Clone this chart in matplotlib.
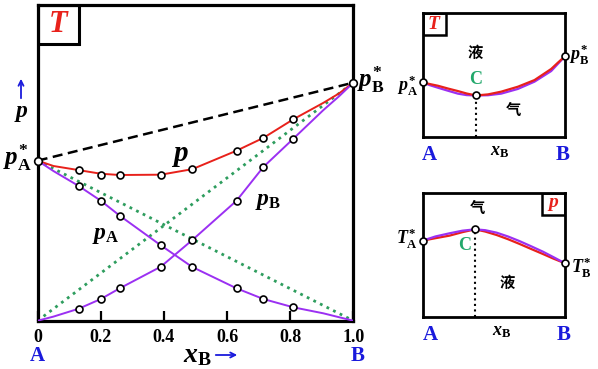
import matplotlib
matplotlib.use("Agg")
import matplotlib.pyplot as plt
from matplotlib.patches import Rectangle, FancyArrowPatch

plt.rcParams['font.family'] = ['Liberation Serif', 'DejaVu Sans']
plt.rcParams['mathtext.fontset'] = 'custom'
plt.rcParams['mathtext.rm'] = 'Liberation Serif:bold'
plt.rcParams['mathtext.it'] = 'Liberation Serif:italic:bold'
plt.rcParams['mathtext.bf'] = 'Liberation Serif:bold'

# main p-x diagram (vapour pressures, arbitrary units)
x_meas = [0.13, 0.20, 0.26, 0.39, 0.49, 0.63, 0.715, 0.81]
p_total = [0.477, 0.4615, 0.4625, 0.4625, 0.480, 0.5385, 0.579, 0.638]
p_A = [0.4267, 0.380, 0.3326, 0.2388, 0.170, 0.1026, 0.0687, 0.0424]
p_B = [0.038, 0.0687, 0.1026, 0.171, 0.2556, 0.380, 0.4869, 0.5765]
pA_star = 0.507
pB_star = 0.754

# smooth curves
curve_x = [0, 0.05, 0.13, 0.20, 0.26, 0.39, 0.49, 0.63, 0.715, 0.81, 0.905, 0.955, 1.0]
curve_total = [0.507, 0.490, 0.477, 0.4655, 0.4615, 0.4625, 0.480, 0.5385, 0.579, 0.638, 0.690, 0.720, 0.754]
curve_A = [0.507, 0.474, 0.4267, 0.380, 0.3326, 0.2388, 0.170, 0.1026, 0.0687, 0.0424, 0.0234, 0.011, 0.0]
curve_B = [0.0, 0.013, 0.038, 0.0687, 0.1026, 0.171, 0.2556, 0.380, 0.4869, 0.5765, 0.667, 0.711, 0.754]

tick_vals = [0, 0.2, 0.4, 0.6, 0.8, 1.0]
tick_labels = ['0', '0.2', '0.4', '0.6', '0.8', '1.0']

# small diagrams (fractions of the box)
top_x = [0, 0.05, 0.108, 0.18, 0.248, 0.31, 0.377, 0.46, 0.552, 0.669, 0.786, 0.903, 0.95, 1.0]
top_liquid = [0.441, 0.427, 0.413, 0.39, 0.370, 0.350, 0.334, 0.343, 0.365, 0.405, 0.459, 0.549, 0.60, 0.652]
top_vapour = [0.441, 0.418, 0.397, 0.372, 0.349, 0.337, 0.334, 0.336, 0.349, 0.387, 0.446, 0.532, 0.59, 0.652]
top_C = (0.377, 0.334)

bot_x = [0, 0.09, 0.19, 0.28, 0.369, 0.44, 0.52, 0.6, 0.68, 0.76, 0.845, 0.92, 1.0]
bot_vapour = [0.616, 0.650, 0.676, 0.697, 0.708, 0.701, 0.681, 0.650, 0.613, 0.572, 0.527, 0.482, 0.433]
bot_liquid = [0.616, 0.636, 0.657, 0.685, 0.708, 0.690, 0.662, 0.628, 0.590, 0.550, 0.508, 0.470, 0.433]
bot_C = (0.369, 0.708)

RED = '#e8211b'
PURPLE = '#9b30f2'
GREEN = '#2e9d5e'
BLUE = '#1a1adc'
CGREEN = '#22a86b'

W, H = 598, 369
fig = plt.figure(figsize=(W / 100, H / 100), dpi=100)


def fpos(x, y):
    return x / W, 1 - y / H


def ftext(x, y, s, **kw):
    kw.setdefault('ha', 'center')
    kw.setdefault('va', 'center')
    fig.text(*fpos(x, y), s, **kw)


def farrow(x0, y0, x1, y1):
    fig.add_artist(FancyArrowPatch(fpos(x0, y0), fpos(x1, y1),
                                   transform=fig.transFigure,
                                   arrowstyle='->', mutation_scale=9,
                                   color=BLUE, lw=1.3))


def dot(ax, x, y, ms=5.5):
    ax.plot(x, y, 'o', ms=ms, mfc='white', mec='black', mew=1.2,
            clip_on=False, zorder=6)


# ---- main chart ----
ax = fig.add_axes([37.7 / W, 1 - 320.7 / H, 315.6 / W, 315.7 / H])
ax.set_xlim(0, 1)
ax.set_ylim(0, 1)
for s in ax.spines.values():
    s.set_linewidth(2.3)

ax.plot([0, 1], [pA_star, 0], ':', color=GREEN, lw=2.0, zorder=2)
ax.plot([0, 1], [0, pB_star], ':', color=GREEN, lw=2.0, zorder=2)
ax.plot([0, 1], [pA_star, pB_star], '--', color='black', lw=1.8,
        dashes=(4, 2.2), zorder=3)
ax.plot(curve_x, curve_total, color=RED, lw=1.4, zorder=4)
ax.plot(curve_x, curve_A, color=PURPLE, lw=1.4, zorder=4)
ax.plot(curve_x, curve_B, color=PURPLE, lw=1.4, zorder=4)
dot(ax, x_meas, p_total, ms=5)
dot(ax, x_meas, p_A, ms=5)
dot(ax, x_meas, p_B, ms=5)
dot(ax, [0, 1], [pA_star, pB_star], ms=5.5)

ax.set_xticks(tick_vals)
ax.set_xticklabels(tick_labels, fontsize=13, fontweight='bold')
ax.tick_params(axis='x', direction='in', length=7, width=1.6, pad=6)
ax.set_yticks([])
ax.add_patch(Rectangle((0, 1 - 39.3 / 315.7), 41.3 / 315.6, 39.3 / 315.7,
                       transform=ax.transAxes, fill=False, lw=2.2,
                       ec='black', zorder=5))

ftext(59, 25, r'$T$', color=RED, fontsize=22)
ftext(17, 158, r'$p_{\rm A}^{*}$', fontsize=18)
ftext(357, 80, r'$p_{\rm B}^{*}$', fontsize=18, ha='left')
ftext(21, 114, r'$p$', fontsize=17)
farrow(21, 101, 21, 76)
ftext(180, 156, r'$p$', fontsize=21)
ftext(106, 236, r'$p_{\rm A}$', fontsize=17)
ftext(268, 201, r'$p_{\rm B}$', fontsize=17)
ftext(197, 356, r'$x_{\rm B}$', fontsize=20)
farrow(213, 355, 240, 355)
ftext(37, 356, 'A', color=BLUE, fontsize=15, fontweight='bold')
ftext(358, 356, 'B', color=BLUE, fontsize=15, fontweight='bold')


# ---- small diagrams ----
def small_panel(top_px, xs, upper, lower, upper_c, lower_c, C, box_label, box_left):
    a = fig.add_axes([422.5 / W, 1 - (top_px + 123.4) / H, 142.5 / W, 123.4 / H])
    a.set_xlim(0, 1)
    a.set_ylim(0, 1)
    a.set_xticks([])
    a.set_yticks([])
    for s in a.spines.values():
        s.set_linewidth(2.0)
    a.plot([C[0], C[0]], [0, C[1]], ':', color='black', lw=1.5, zorder=2)
    a.plot(xs, lower, color=lower_c, lw=1.6, zorder=3)
    a.plot(xs, upper, color=upper_c, lw=1.6, zorder=3)
    dot(a, [0, C[0], 1], [upper[0], C[1], upper[-1]], ms=5)
    bx = 0 if box_left else 1 - 23.5 / 142.5
    a.add_patch(Rectangle((bx, 1 - 21.7 / 123.4), 23.5 / 142.5, 21.7 / 123.4,
                          transform=a.transAxes, fill=False, lw=1.8,
                          ec='black', zorder=5))
    a.text(bx + 11.75 / 142.5, 1 - 10.8 / 123.4, box_label, color=RED,
           fontsize=14, ha='center', va='center', transform=a.transAxes)
    return a


small_panel(13.3, top_x, top_liquid, top_vapour, RED, PURPLE, top_C, r'$T$', True)
small_panel(193.3, bot_x, bot_vapour, bot_liquid, PURPLE, RED, bot_C, r'$p$', False)

cjk = dict(family=['Noto Sans CJK SC', 'DejaVu Sans'], fontweight='bold', fontsize=11)
ftext(475, 53, '液', **cjk)
ftext(513, 110, '气', **cjk)
ftext(476, 80, 'C', color=CGREEN, fontsize=13, fontweight='bold')
ftext(408, 86, r'$p_{\rm A}^{*}$', fontsize=13)
ftext(569, 55, r'$p_{\rm B}^{*}$', fontsize=13, ha='left')
ftext(429, 155, 'A', color=BLUE, fontsize=15, fontweight='bold')
ftext(500, 152, r'$x_{\rm B}$', fontsize=13)
ftext(563, 155, 'B', color=BLUE, fontsize=15, fontweight='bold')

ftext(477, 208, '气', **cjk)
ftext(507, 283, '液', **cjk)
ftext(465, 245, 'C', color=CGREEN, fontsize=13, fontweight='bold')
ftext(407, 239, r'$T_{\rm A}^{*}$', fontsize=13)
ftext(571, 268, r'$T_{\rm B}^{*}$', fontsize=13, ha='left')
ftext(430, 335, 'A', color=BLUE, fontsize=15, fontweight='bold')
ftext(502, 332, r'$x_{\rm B}$', fontsize=13)
ftext(564, 335, 'B', color=BLUE, fontsize=15, fontweight='bold')

fig.savefig('out.png', dpi=100)
